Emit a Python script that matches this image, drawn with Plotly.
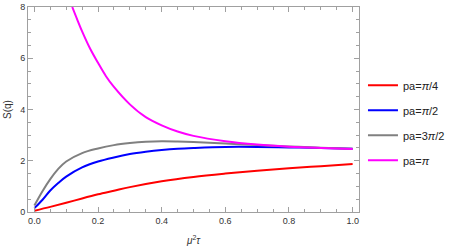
import plotly.graph_objects as go

x_red = [0.0, 0.05, 0.1, 0.15, 0.2, 0.25, 0.3, 0.4, 0.5, 0.6, 0.7, 0.8, 0.9, 1.0]
y_red = [0.05, 0.2, 0.36, 0.53, 0.69, 0.83, 0.97, 1.2, 1.37, 1.5, 1.61, 1.71, 1.79, 1.87]

x_blue = [0.0, 0.025, 0.05, 0.075, 0.1, 0.15, 0.2, 0.25, 0.3, 0.35, 0.4, 0.45, 0.5, 0.6, 0.7, 0.8, 0.9, 1.0]
y_blue = [0.15, 0.47, 0.84, 1.13, 1.38, 1.74, 1.97, 2.13, 2.26, 2.35, 2.42, 2.47, 2.5, 2.54, 2.54, 2.52, 2.5, 2.47]

x_gray = [0.0, 0.025, 0.05, 0.075, 0.1, 0.15, 0.2, 0.25, 0.3, 0.35, 0.4, 0.45, 0.5, 0.6, 0.7, 0.8, 0.9, 1.0]
y_gray = [0.25, 0.8, 1.28, 1.68, 1.97, 2.3, 2.48, 2.61, 2.69, 2.74, 2.76, 2.75, 2.73, 2.67, 2.61, 2.56, 2.51, 2.47]

x_mag = [0.119, 0.135, 0.15, 0.175, 0.2, 0.225, 0.25, 0.3, 0.35, 0.4, 0.45, 0.5, 0.6, 0.7, 0.8, 0.9, 1.0]
y_mag = [8.0, 7.5, 7.05, 6.38, 5.82, 5.3, 4.88, 4.2, 3.7, 3.38, 3.14, 2.97, 2.76, 2.63, 2.55, 2.5, 2.46]

names = ["pa=<i>π</i>/4", "pa=<i>π</i>/2", "pa=3<i>π</i>/2", "pa=<i>π</i>"]
colors = ["#ff0000", "#0000ff", "#808080", "#ff00ff"]

fig = go.Figure()
for i, (xs, ys) in enumerate([(x_red, y_red), (x_blue, y_blue), (x_gray, y_gray), (x_mag, y_mag)]):
    fig.add_trace(go.Scatter(x=xs, y=ys, mode="lines", name=names[i], legendgroup=str(i),
                             line=dict(color=colors[i], width=2, shape="spline", smoothing=1.0)))

axis_common = dict(showline=True, mirror="ticks", linecolor="#a0a0a0", linewidth=1,
                   ticks="inside", tickcolor="#a0a0a0", ticklen=5, showgrid=False, zeroline=False,
                   automargin=False,
                   tickfont=dict(size=9, color="#333333"),
                   minor=dict(ticks="inside", ticklen=3, tickcolor="#a0a0a0", showgrid=False))

fig.update_xaxes(range=[-0.02, 1.02], tickvals=[0, 0.2, 0.4, 0.6, 0.8, 1.0],
                 ticktext=["0.0", "0.2", "0.4", "0.6", "0.8", "1.0"],
                 minor_dtick=0.05,
                 title=dict(text="<i>μ</i><sup>2</sup><i>τ</i>", font=dict(size=10, color="#333333"), standoff=12),
                 **axis_common)
fig.update_yaxes(range=[0, 8], tickvals=[0, 2, 4, 6, 8], minor_dtick=0.5,
                 title=dict(text="S(q)", font=dict(size=10, color="#333333"), standoff=6),
                 **axis_common)

fig.update_layout(
    width=461, height=249,
    margin=dict(l=28, r=102, t=7, b=37),
    paper_bgcolor="white", plot_bgcolor="white",
    font=dict(family="Liberation Sans, Arial, sans-serif"),
    legend=dict(x=1.012, y=0.435, xanchor="left", yanchor="middle", font=dict(size=11, color="#222222"),
                tracegroupgap=6, bgcolor="rgba(0,0,0,0)"),
)

fig.write_html("out.html", config={"displayModeBar": False},
               post_script="document.body.style.margin='0';")
